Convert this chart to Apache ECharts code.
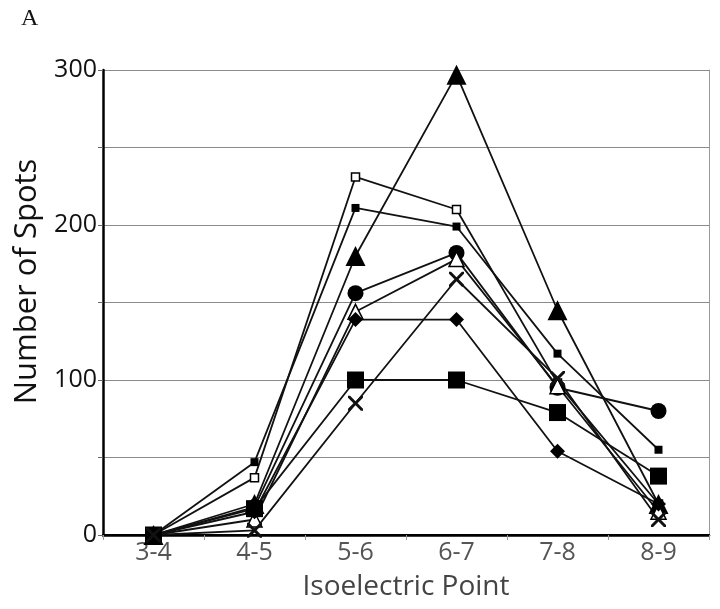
<!DOCTYPE html>
<html>
<head>
<meta charset="utf-8">
<script src="https://cdn.jsdelivr.net/npm/echarts@6/dist/echarts.min.js"></script>
<style>
  html, body { margin: 0; padding: 0; background: #fff; }
  #chart { width: 720px; height: 609px; }
</style>
</head>
<body>
<div id="chart"></div>
<script>
// --- data ---
const categories = ['3-4', '4-5', '5-6', '6-7', '7-8', '8-9'];
const yTicks = [0, 100, 200, 300];

const filledTriangle = [0, 20, 180, 297, 145, 20];
const openSquare = [0, 37, 231, 210, 98, 20];
const smallSquare = [0, 47, 211, 199, 117, 55];
const filledCircle = [0, 18, 156, 182, 95, 80];
const openTriangle = [0, 10, 144, 178, 96, 15];
const filledDiamond = [0, 15, 139, 139, 54, 20];
const bigSquare = [0, 17, 100, 100, 79, 38];
const crossMark = [0, 3, 85, 165, 101, 10];

const crossPath = 'path://M0,0L1.4,0L5,3.6L8.6,0L10,0L10,1.4L6.4,5L10,8.6L10,10L8.6,10L5,6.4L1.4,10L0,10L0,8.6L3.6,5L0,1.4Z';

const chart = echarts.init(document.getElementById('chart'));

const mkSeries = (name, data, symbol, size, fill) => ({
  name: name,
  type: 'line',
  data: data,
  symbol: symbol,
  symbolSize: size,
  showAllSymbol: true,
  lineStyle: { color: '#111', width: 1.8 },
  itemStyle: { color: fill, borderColor: '#000', borderWidth: fill === '#fff' ? 1.5 : 0 },
  emphasis: { disabled: true },
  z: 3
});

const option = {
  backgroundColor: '#fff',
  animation: false,
  graphic: [{
    type: 'text',
    left: 21,
    top: 7,
    style: { text: 'A', fontSize: 24, fontFamily: 'Liberation Serif', fill: '#111' }
  }],
  grid: { left: 103, top: 70, right: 11, bottom: 74 },
  xAxis: [{
    type: 'category',
    data: categories,
    boundaryGap: true,
    axisLine: { lineStyle: { color: '#000', width: 2.5 } },
    axisTick: { show: true, length: 5, lineStyle: { color: '#999' } },
    axisLabel: { color: '#555', fontSize: 25, fontFamily: 'Open Sans', margin: 5 },
    name: 'Isoelectric Point',
    nameLocation: 'middle',
    nameGap: 38,
    nameTextStyle: { color: '#444', fontSize: 28, fontFamily: 'Open Sans' }
  }, {
    type: 'category',
    data: categories,
    position: 'top',
    axisLine: { lineStyle: { color: '#000', width: 2 } },
    axisTick: { show: false },
    axisLabel: { show: false }
  }],
  yAxis: [{
    type: 'value',
    min: 0,
    max: 300,
    interval: 50,
    axisLine: { show: true, lineStyle: { color: '#000', width: 2.5 } },
    axisTick: { show: true, length: 5, lineStyle: { color: '#666' } },
    axisLabel: {
      color: '#111', fontSize: 25, fontFamily: 'Open Sans', margin: 6,
      formatter: v => (yTicks.includes(v) ? String(v) : '')
    },
    splitLine: { lineStyle: { color: '#8a8a8a', width: 1.2 } },
    name: 'Number of Spots',
    nameLocation: 'middle',
    nameGap: 60,
    nameTextStyle: { color: '#111', fontSize: 31, fontFamily: 'Open Sans', padding: [0, 0, 0, 42] }
  }, {
    type: 'value',
    position: 'right',
    min: 0,
    max: 300,
    interval: 50,
    axisLine: { show: true, lineStyle: { color: '#999', width: 1 } },
    axisTick: { show: false },
    axisLabel: { show: false },
    splitLine: { show: false }
  }],
  series: [
    mkSeries('triangle', filledTriangle, 'triangle', 20, '#000'),
    mkSeries('open square', openSquare, 'rect', 8, '#fff'),
    mkSeries('small square', smallSquare, 'rect', 8, '#000'),
    mkSeries('circle', filledCircle, 'circle', 16, '#000'),
    mkSeries('open triangle', openTriangle, 'triangle', 15, '#fff'),
    mkSeries('diamond', filledDiamond, 'diamond', 15, '#000'),
    mkSeries('big square', bigSquare, 'rect', 17, '#000'),
    mkSeries('cross', crossMark, crossPath, 15, '#111')
  ]
};

chart.setOption(option);
</script>
</body>
</html>
